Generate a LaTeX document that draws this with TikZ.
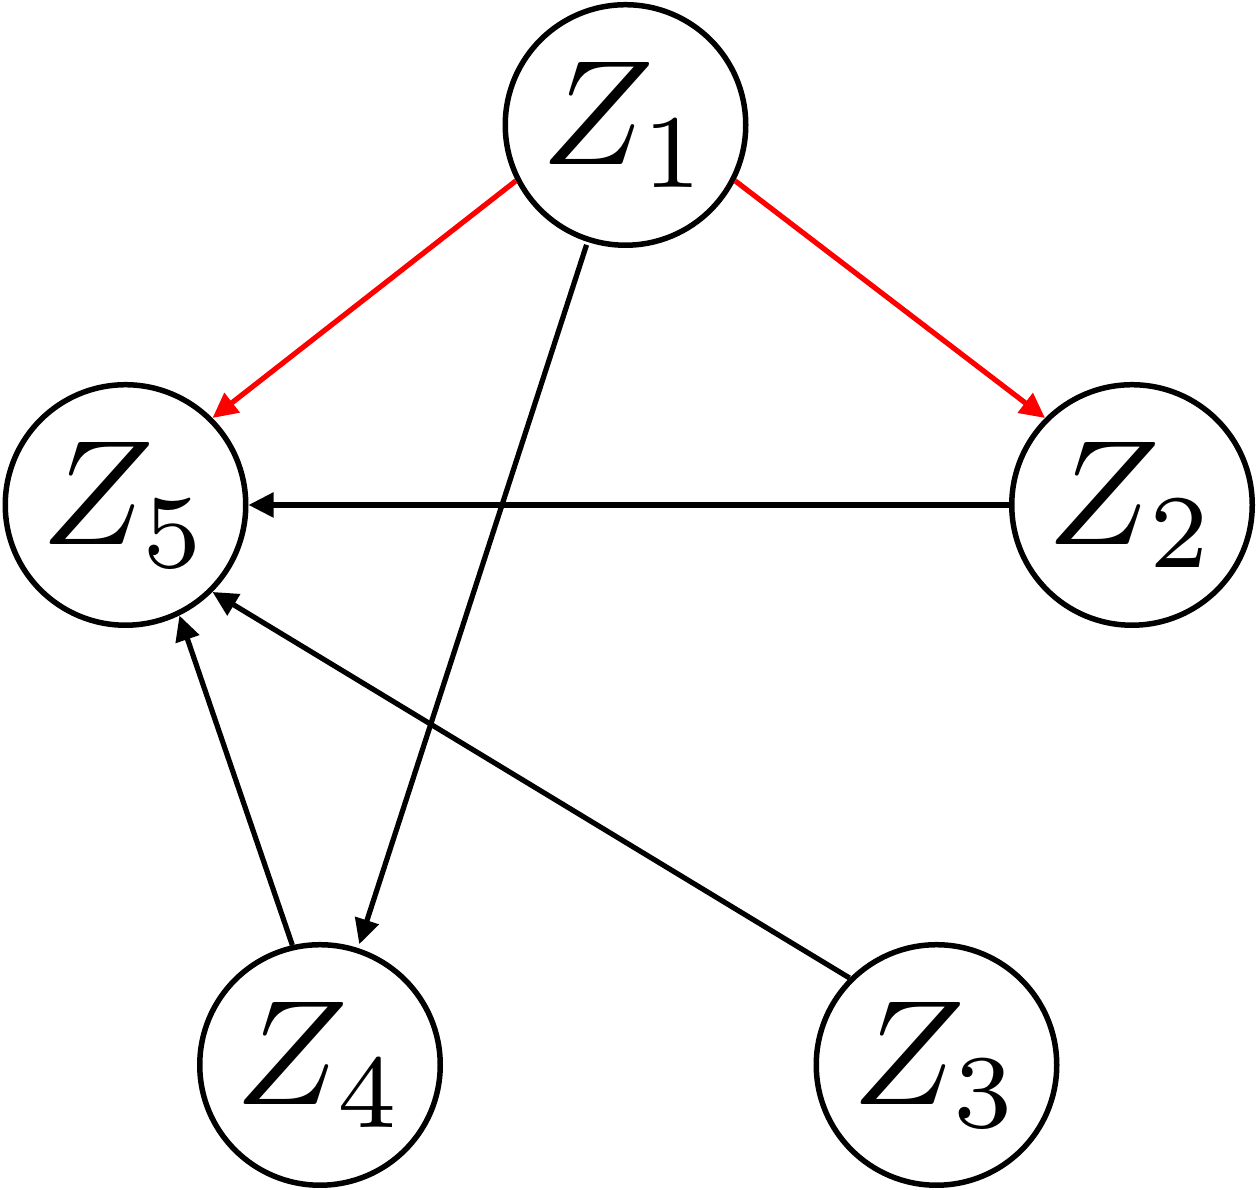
\documentclass[tikz,border=0pt]{standalone}
\usepackage{graphicx}
\usetikzlibrary{arrows.meta}
% labels are set at normal size and magnified, so the subscripts keep their 7pt design
\newcommand{\biglabel}[1]{\scalebox{4.25}{$#1$}}
\begin{document}
\begin{tikzpicture}[
  var/.style={circle, draw, line width=0.055cm, minimum size=2.405cm, inner sep=0pt},
  edge/.style={line width=0.052cm, -{Triangle[length=0.25cm,width=0.24cm]}},
  hot/.style={edge, draw=red}
]
\useasboundingbox (0,0) rectangle (12.58,11.9);

\node[var] (z1) at (6.255,10.65) {\biglabel{Z_1}};
\node[var] (z5) at (1.255,6.85)  {\biglabel{Z_5}};
\node[var] (z2) at (11.32,6.85)  {\biglabel{Z_2}};
\node[var] (z4) at (3.20,1.25)   {\biglabel{Z_4}};
\node[var] (z3) at (9.365,1.25)  {\biglabel{Z_3}};

\draw[hot]  (z1.207) -- (z5.45);
\draw[hot]  (z1.333) -- (z2.135);
\draw[edge, shorten <=0.03cm, shorten >=0.04cm] (z1) -- (z4);
\draw[edge] (z2.west) -- (z5.east);
\draw[edge] (z4.103) -- (z5.296);
\draw[edge] (z3.135) -- (z5.315);
\end{tikzpicture}
\end{document}
